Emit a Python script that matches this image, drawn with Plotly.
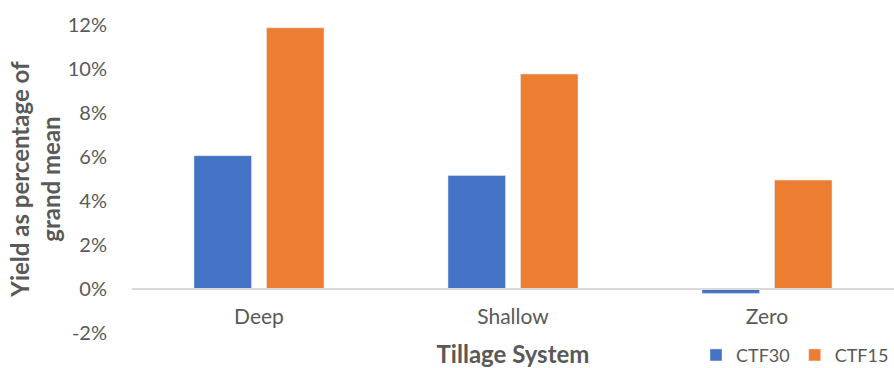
import plotly.graph_objects as go

# Tillage systems and yield relative to the grand mean (fractions)
systems = ["Deep", "Shallow", "Zero"]
ctf30 = [0.0606, 0.0516, -0.0020]
ctf15 = [0.1187, 0.0977, 0.0495]

# Y-axis ticks, written with a plain hyphen for the negative value
y_ticks = [-0.02, 0.0, 0.02, 0.04, 0.06, 0.08, 0.10, 0.12]
y_tick_labels = ["-2%", "0%", "2%", "4%", "6%", "8%", "10%", "12%"]

y_min, y_max = -0.02, 0.12
font_family = "Lato, 'Open Sans', sans-serif"
grey = "#595959"

fig = go.Figure()
fig.add_trace(go.Bar(name="CTF30", x=systems, y=ctf30, marker_color="#4472C4"))
fig.add_trace(go.Bar(name="CTF15", x=systems, y=ctf15, marker_color="#ED7D31"))

fig.update_layout(
    width=894,
    height=368,
    margin=dict(l=132, r=0, t=25, b=35, autoexpand=False),
    paper_bgcolor="white",
    plot_bgcolor="white",
    barmode="group",
    bargap=0.429,
    bargroupgap=0.207,
    font=dict(family=font_family, size=20, color=grey),
    showlegend=True,
    legend=dict(
        orientation="h",
        x=1.0,
        xanchor="right",
        y=-0.072,
        yanchor="middle",
        font=dict(size=18, color=grey),
        itemwidth=30,
        tracegroupgap=0,
        bgcolor="rgba(0,0,0,0)",
    ),
)

# Category axis sits on the zero line
fig.update_xaxes(
    anchor="free",
    position=(0 - y_min) / (y_max - y_min),
    automargin=False,
    showline=True,
    linecolor="#D9D9D9",
    linewidth=1.5,
    showgrid=False,
    ticks="",
    ticklabelstandoff=9,
    tickfont=dict(size=21, color=grey),
    title=dict(
        text="<b>Tillage System</b>",
        font=dict(size=24, color=grey),
        standoff=19,
    ),
)

fig.update_yaxes(
    range=[y_min, y_max],
    automargin=False,
    tickvals=y_ticks,
    ticktext=y_tick_labels,
    showgrid=False,
    zeroline=False,
    showline=False,
    ticks="",
    ticklabelstandoff=24,
    tickfont=dict(size=20, color=grey),
    title=dict(
        text="<b>Yield as percentage of<br>grand mean</b>",
        font=dict(size=24, color=grey),
        standoff=0,
    ),
)

fig.write_html("out.html")
